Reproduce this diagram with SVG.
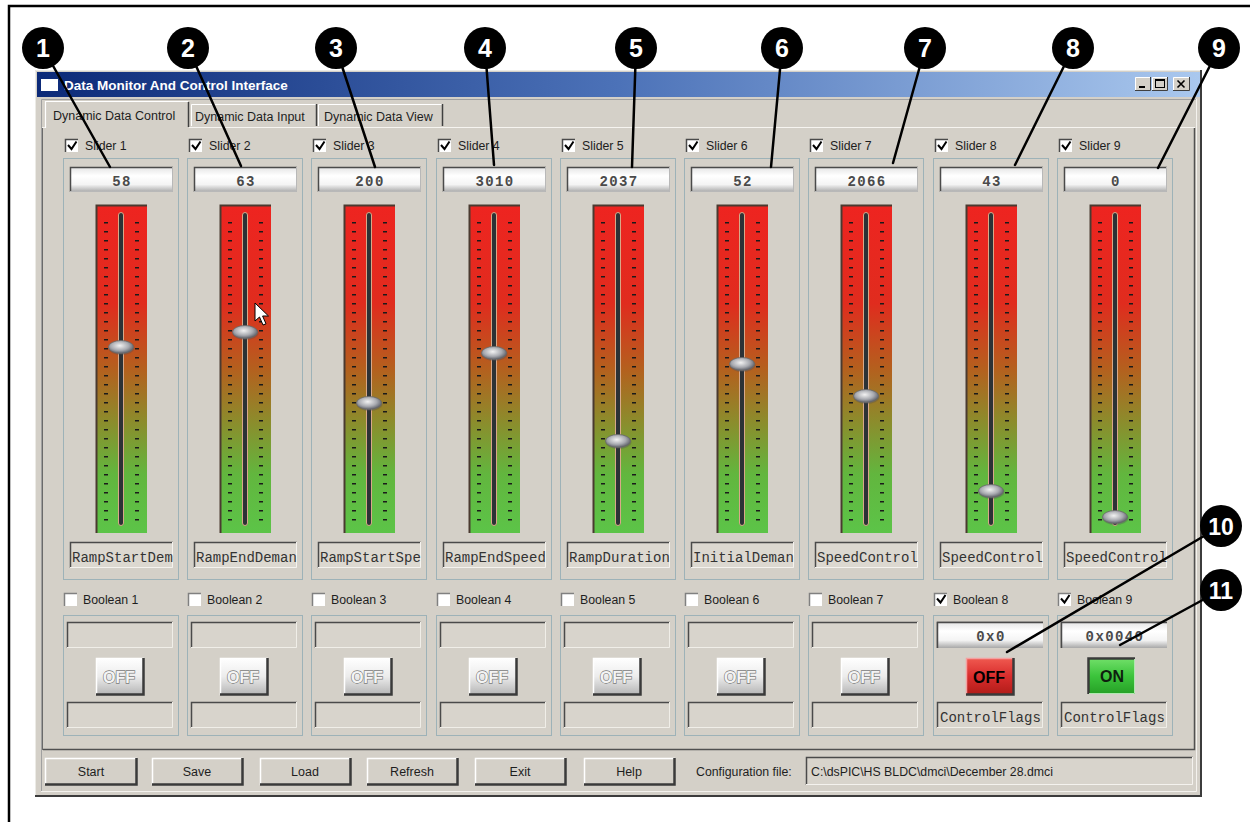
<svg xmlns="http://www.w3.org/2000/svg" xmlns:xlink="http://www.w3.org/1999/xlink" width="1250" height="822" viewBox="0 0 1250 822">
<defs>
<style>
.ui{font-family:"Liberation Sans",Arial,sans-serif;font-size:12.3px;fill:#1e1e1e}
.mono{font-family:"Liberation Mono","Courier New",monospace;font-size:14px;fill:#333333}
.val{font-family:"Liberation Mono","Courier New",monospace;font-size:14px;font-weight:bold;fill:#4a4a4a;letter-spacing:1.4px;text-anchor:middle}
.num{font-family:"Liberation Sans",Arial,sans-serif;font-weight:bold;font-size:25px;fill:#fff;text-anchor:middle}
.panel{fill:none;stroke:#9db2b8;stroke-width:1}
.dk{fill:none;stroke:#4a4a4a;stroke-width:1.5}
.lt{fill:none;stroke:#ffffff;stroke-width:1.5}
.sh{fill:none;stroke:#3a3a3a;stroke-width:2.5}
.lead{stroke:#000;stroke-width:2.5;fill:none;stroke-linecap:round}
.tick{stroke:#1a1a1a;stroke-width:4;stroke-dasharray:1.6 7.4}
.chk{fill:none;stroke:#000;stroke-width:2}
.offtxt{font-family:"Liberation Sans",Arial,sans-serif;font-weight:bold;font-size:16px;text-anchor:middle;fill:#f4f4f4;stroke:#7a7a7a;stroke-width:1.3;paint-order:stroke}
.bt{font-family:"Liberation Sans",Arial,sans-serif;font-weight:bold;font-size:16px;text-anchor:middle}
.btn{font-family:"Liberation Sans",Arial,sans-serif;font-size:12.5px;fill:#1e1e1e;text-anchor:middle}
</style>
<linearGradient id="titleGrad" x1="0" y1="0" x2="1" y2="0">
<stop offset="0" stop-color="#0c2a78"/><stop offset="0.5" stop-color="#4c72b8"/><stop offset="1" stop-color="#aac8ee"/>
</linearGradient>
<linearGradient id="trackGrad" x1="0" y1="0" x2="0" y2="1">
<stop offset="0" stop-color="#ee2420"/><stop offset="0.3" stop-color="#e02c1e"/><stop offset="0.5" stop-color="#b4601e"/><stop offset="0.66" stop-color="#8c8c2c"/><stop offset="0.82" stop-color="#62b63e"/><stop offset="1" stop-color="#5cc448"/>
</linearGradient>
<linearGradient id="valGrad" x1="0" y1="0" x2="0" y2="1">
<stop offset="0" stop-color="#e4e4e4"/><stop offset="0.35" stop-color="#ffffff"/><stop offset="0.7" stop-color="#f4f4f4"/><stop offset="1" stop-color="#a8a8a8"/>
</linearGradient>
<linearGradient id="btnGrad" x1="0" y1="0" x2="0" y2="1">
<stop offset="0" stop-color="#ffffff"/><stop offset="0.5" stop-color="#ececec"/><stop offset="1" stop-color="#b4b4b4"/>
</linearGradient>
<linearGradient id="redGrad" x1="0" y1="0" x2="0" y2="1">
<stop offset="0" stop-color="#f05a50"/><stop offset="0.5" stop-color="#d82c2c"/><stop offset="1" stop-color="#b01c18"/>
</linearGradient>
<linearGradient id="greenGrad" x1="0" y1="0" x2="0" y2="1">
<stop offset="0" stop-color="#72e06a"/><stop offset="0.5" stop-color="#3cc43c"/><stop offset="1" stop-color="#26a026"/>
</linearGradient>
<radialGradient id="thumbGrad" cx="0.45" cy="0.4" r="0.6">
<stop offset="0" stop-color="#f2f2f2"/><stop offset="0.6" stop-color="#a8aab0"/><stop offset="1" stop-color="#5c5e66"/>
</radialGradient>
<clipPath id="nameClip" clipPathUnits="userSpaceOnUse"><rect x="8" y="543" width="102" height="25"/></clipPath>
<g id="sliderBody">
<rect x="2" y="139" width="13" height="13" fill="#fff"/>
<path d="M2.5,152 V139.5 H15" class="dk"/>
<path d="M5,145 L8.5,149 L13.5,141.5" class="chk"/>
<rect class="panel" x="0.5" y="158.5" width="115" height="421"/>
<rect x="7" y="167" width="103" height="25" fill="url(#valGrad)"/>
<path d="M7.5,192 V167.5 H110" class="dk"/>
<path d="M109.5,167 V191.5 H7" stroke="#b8b8b8" stroke-width="1" fill="none"/>
<rect x="33" y="205" width="51" height="328" fill="url(#trackGrad)"/>
<path d="M33.5,533 V205.5 H84" stroke="#4a3a30" stroke-width="2" fill="none"/>
<line x1="43" y1="222" x2="43" y2="523" class="tick"/>
<line x1="74" y1="222" x2="74" y2="523" class="tick"/>
<rect x="55.5" y="212.5" width="5" height="313" rx="2.5" fill="#2c3236" stroke="#d8a888" stroke-width="1"/>
<rect x="7" y="542" width="103" height="26" fill="#dcd8d0"/>
<path d="M7.5,568 V542.5 H110" class="dk"/>
<path d="M109.5,542 V567.5 H7" stroke="#f4f2ee" stroke-width="1" fill="none"/>
<rect x="1" y="593" width="13" height="13" fill="#fff"/>
<path d="M1.5,606 V593.5 H14" stroke="#808080" stroke-width="1.5" fill="none"/>
<rect class="panel" x="0.5" y="615.5" width="115" height="120"/>
<rect x="4" y="622" width="106" height="26" fill="#d8d4cc"/>
<path d="M4.5,648 V622.5 H110" class="dk"/>
<path d="M109.5,622 V647.5 H4" stroke="#f0eee8" stroke-width="1" fill="none"/>
<rect x="4" y="702" width="106" height="26" fill="#d8d4cc"/>
<path d="M4.5,728 V702.5 H110" class="dk"/>
<path d="M109.5,702 V727.5 H4" stroke="#f0eee8" stroke-width="1" fill="none"/>
</g>
<g id="thumb">
<ellipse cx="58.5" cy="1" rx="13" ry="7" fill="#50505a" opacity="0.35"/>
<ellipse cx="58" cy="0" rx="12.5" ry="6.5" fill="url(#thumbGrad)" stroke="#6a6a6a" stroke-width="0.8"/>
</g>
<g id="offBtn">
<rect x="33" y="658" width="48" height="37" fill="url(#btnGrad)"/>
<path d="M33.5,695 V658.5 H81" class="lt"/>
<path d="M80.5,658 V694.5 H33" class="sh"/>
<text x="56" y="683" class="offtxt">OFF</text>
</g>
<g id="valBox">
<rect x="4" y="622" width="106" height="26" fill="url(#valGrad)"/>
<path d="M4.5,648 V622.5 H110" class="dk"/>
</g>
<g id="boolChk">
<path d="M4,598.5 L7.5,602.5 L12.5,595" class="chk"/>
</g>
</defs>

<rect x="0" y="0" width="1250" height="822" fill="#ffffff"/>
<path d="M9,822 V6 H1250" stroke="#000" stroke-width="2.5" fill="none"/>

<g id="window">
<rect x="35" y="70" width="1167" height="727" fill="#d4d0c8"/>
<path d="M35.5,797 V70.5 H1202" stroke="#ecebe6" stroke-width="1" fill="none"/>
<path d="M1201,70 V796 H35" stroke="#3c3c3c" stroke-width="2" fill="none"/>
<rect x="37" y="72" width="1163" height="25" fill="url(#titleGrad)"/>
<rect x="41" y="79" width="17" height="12" fill="#ffffff"/>
<text x="64" y="90" style="font-family:'Liberation Sans',Arial,sans-serif;font-weight:bold;font-size:13.5px;fill:#ffffff">Data Monitor And Control Interface</text>
<g id="titleButtons">
<rect x="1135" y="77" width="16" height="14" fill="#d4d0c8"/>
<path d="M1135.5,91 V77.5 H1151" stroke="#fff" fill="none"/>
<path d="M1150.5,77 V90.5 H1135" stroke="#404040" fill="none"/>
<rect x="1139" y="86" width="6" height="2" fill="#000"/>
<rect x="1152" y="77" width="16" height="14" fill="#d4d0c8"/>
<path d="M1152.5,91 V77.5 H1168" stroke="#fff" fill="none"/>
<path d="M1167.5,77 V90.5 H1152" stroke="#404040" fill="none"/>
<rect x="1155.5" y="79.5" width="9" height="8" fill="none" stroke="#000" stroke-width="1"/>
<rect x="1155.5" y="79.5" width="9" height="1.5" fill="#000"/>
<rect x="1173" y="77" width="17" height="14" fill="#d4d0c8"/>
<path d="M1173.5,91 V77.5 H1190" stroke="#fff" fill="none"/>
<path d="M1189.5,77 V90.5 H1173" stroke="#404040" fill="none"/>
<path d="M1177.5,80.5 L1184.5,87.5 M1184.5,80.5 L1177.5,87.5" stroke="#000" stroke-width="1.6" fill="none"/>
</g>
<path d="M41.5,791 V99.5 H1196" stroke="#a0a0a0" stroke-width="1" fill="none"/>
<path d="M1196.5,99 V791.5 H41" stroke="#f4f2ee" stroke-width="1" fill="none"/>
<rect x="42.5" y="127.5" width="1152" height="622" fill="#d4d0c8" stroke="#f6f4f0" stroke-width="1"/>
<path d="M1194.5,128 V749.5 H43" stroke="#505050" stroke-width="1.5" fill="none"/>
<path d="M42.5,750 V128" stroke="#6a6a6a" stroke-width="1" fill="none"/>
<g id="tabs">
<rect x="45" y="101" width="144" height="28" fill="#d4d0c8"/>
<path d="M45.5,128 V101.5 H188" stroke="#ffffff" stroke-width="1.2" fill="none"/>
<path d="M188.5,102 V127" stroke="#404040" stroke-width="1.5" fill="none"/>
<text class="ui" x="53" y="120" style="font-size:12.5px">Dynamic Data Control</text>
<path d="M191.5,126 V104.5 H316" stroke="#ffffff" stroke-width="1" fill="none"/>
<path d="M316.5,104 V126" stroke="#404040" stroke-width="1.5" fill="none"/>
<text class="ui" x="195" y="121" style="font-size:12.5px">Dynamic Data Input</text>
<path d="M318.5,126 V104.5 H442" stroke="#ffffff" stroke-width="1" fill="none"/>
<path d="M442.5,104 V126" stroke="#404040" stroke-width="1.5" fill="none"/>
<text class="ui" x="324" y="121" style="font-size:12.5px">Dynamic Data View</text>
</g>
</g>

<g id="col1" transform="translate(63,0)">
<use href="#sliderBody"/>
<text class="ui" x="22" y="150">Slider 1</text>
<text class="val" x="59" y="186">58</text>
<use href="#thumb" y="347"/>
<text class="mono" x="9" y="562" clip-path="url(#nameClip)">RampStartDem</text>
<text class="ui" x="20" y="604">Boolean 1</text>
<use href="#offBtn"/>
</g>
<g id="col2" transform="translate(187,0)">
<use href="#sliderBody"/>
<text class="ui" x="22" y="150">Slider 2</text>
<text class="val" x="59" y="186">63</text>
<use href="#thumb" y="332"/>
<text class="mono" x="9" y="562" clip-path="url(#nameClip)">RampEndDeman</text>
<text class="ui" x="20" y="604">Boolean 2</text>
<use href="#offBtn"/>
</g>
<g id="col3" transform="translate(311,0)">
<use href="#sliderBody"/>
<text class="ui" x="22" y="150">Slider 3</text>
<text class="val" x="59" y="186">200</text>
<use href="#thumb" y="403"/>
<text class="mono" x="9" y="562" clip-path="url(#nameClip)">RampStartSpe</text>
<text class="ui" x="20" y="604">Boolean 3</text>
<use href="#offBtn"/>
</g>
<g id="col4" transform="translate(436,0)">
<use href="#sliderBody"/>
<text class="ui" x="22" y="150">Slider 4</text>
<text class="val" x="59" y="186">3010</text>
<use href="#thumb" y="353"/>
<text class="mono" x="9" y="562" clip-path="url(#nameClip)">RampEndSpeed</text>
<text class="ui" x="20" y="604">Boolean 4</text>
<use href="#offBtn"/>
</g>
<g id="col5" transform="translate(560,0)">
<use href="#sliderBody"/>
<text class="ui" x="22" y="150">Slider 5</text>
<text class="val" x="59" y="186">2037</text>
<use href="#thumb" y="441"/>
<text class="mono" x="9" y="562" clip-path="url(#nameClip)">RampDuration</text>
<text class="ui" x="20" y="604">Boolean 5</text>
<use href="#offBtn"/>
</g>
<g id="col6" transform="translate(684,0)">
<use href="#sliderBody"/>
<text class="ui" x="22" y="150">Slider 6</text>
<text class="val" x="59" y="186">52</text>
<use href="#thumb" y="364"/>
<text class="mono" x="9" y="562" clip-path="url(#nameClip)">InitialDeman</text>
<text class="ui" x="20" y="604">Boolean 6</text>
<use href="#offBtn"/>
</g>
<g id="col7" transform="translate(808,0)">
<use href="#sliderBody"/>
<text class="ui" x="22" y="150">Slider 7</text>
<text class="val" x="59" y="186">2066</text>
<use href="#thumb" y="396"/>
<text class="mono" x="9" y="562" clip-path="url(#nameClip)">SpeedControl</text>
<text class="ui" x="20" y="604">Boolean 7</text>
<use href="#offBtn"/>
</g>
<g id="col8" transform="translate(933,0)">
<use href="#sliderBody"/>
<text class="ui" x="22" y="150">Slider 8</text>
<text class="val" x="59" y="186">43</text>
<use href="#thumb" y="491"/>
<text class="mono" x="9" y="562" clip-path="url(#nameClip)">SpeedControl</text>
<use href="#boolChk"/>
<text class="ui" x="20" y="604">Boolean 8</text>
<use href="#valBox"/>
<text class="val" x="58" y="641">0x0</text>
<rect x="33" y="658" width="48" height="37" fill="url(#redGrad)"/>
<path d="M33.5,695 V658.5 H81" stroke="#f4a0a0" stroke-width="1.5" fill="none"/>
<path d="M80.5,658 V694.5 H33" class="sh"/>
<text x="56" y="683" class="bt" fill="#000">OFF</text>
<text class="mono" x="7" y="722">ControlFlags</text>
</g>
<g id="col9" transform="translate(1057,0)">
<use href="#sliderBody"/>
<text class="ui" x="22" y="150">Slider 9</text>
<text class="val" x="59" y="186">0</text>
<use href="#thumb" y="517"/>
<text class="mono" x="9" y="562" clip-path="url(#nameClip)">SpeedControl</text>
<use href="#boolChk"/>
<text class="ui" x="20" y="604">Boolean 9</text>
<use href="#valBox"/>
<text class="val" x="58" y="641">0x0040</text>
<rect x="31" y="658" width="47" height="36" fill="url(#greenGrad)"/>
<path d="M31.5,694 V658.5 H78" class="sh" stroke-width="2"/>
<path d="M77.5,659 V693.5 H32" stroke="#b0e8b0" stroke-width="1" fill="none"/>
<text x="55" y="682" class="bt" fill="#0e1e0e">ON</text>
<text class="mono" x="7" y="722">ControlFlags</text>
</g>

<polygon id="cursor" points="255,303 255,321 259.5,317 263,325 266,323.8 262.6,316 268.5,316" fill="#ffffff" stroke="#000" stroke-width="1"/>

<g id="bottomBar">
<g id="btnStart"><rect x="45" y="758" width="92" height="27" fill="#d4d0c8"/><path d="M45.5,785 V758.5 H137" class="lt"/><path d="M136.5,758 V784.5 H45" class="sh" stroke-width="2"/><text class="btn" x="91" y="776">Start</text></g>
<g id="btnSave"><rect x="152" y="758" width="91" height="27" fill="#d4d0c8"/><path d="M152.5,785 V758.5 H243" class="lt"/><path d="M242.5,758 V784.5 H152" class="sh" stroke-width="2"/><text class="btn" x="197" y="776">Save</text></g>
<g id="btnLoad"><rect x="260" y="758" width="91" height="27" fill="#d4d0c8"/><path d="M260.5,785 V758.5 H351" class="lt"/><path d="M350.5,758 V784.5 H260" class="sh" stroke-width="2"/><text class="btn" x="305" y="776">Load</text></g>
<g id="btnRefresh"><rect x="367" y="758" width="91" height="27" fill="#d4d0c8"/><path d="M367.5,785 V758.5 H458" class="lt"/><path d="M457.5,758 V784.5 H367" class="sh" stroke-width="2"/><text class="btn" x="412" y="776">Refresh</text></g>
<g id="btnExit"><rect x="475" y="758" width="91" height="27" fill="#d4d0c8"/><path d="M475.5,785 V758.5 H566" class="lt"/><path d="M565.5,758 V784.5 H475" class="sh" stroke-width="2"/><text class="btn" x="520" y="776">Exit</text></g>
<g id="btnHelp"><rect x="584" y="758" width="91" height="27" fill="#d4d0c8"/><path d="M584.5,785 V758.5 H675" class="lt"/><path d="M674.5,758 V784.5 H584" class="sh" stroke-width="2"/><text class="btn" x="629" y="776">Help</text></g>
<text class="ui" x="696" y="776">Configuration file:</text>
<g id="configField"><rect x="806" y="757" width="387" height="28" fill="#d8d4cc"/><path d="M806.5,785 V757.5 H1193" class="dk"/><path d="M1192.5,757 V784.5 H806" stroke="#f4f2ee" stroke-width="1" fill="none"/><text class="ui" x="811" y="776">C:\dsPIC\HS BLDC\dmci\December 28.dmci</text></g>
</g>

<g id="connectors">
<line class="lead" x1="43" y1="48" x2="110" y2="167"/>
<line class="lead" x1="188" y1="48" x2="241" y2="166"/>
<line class="lead" x1="336" y1="48" x2="375" y2="167"/>
<line class="lead" x1="485" y1="48" x2="494" y2="165"/>
<line class="lead" x1="636" y1="48" x2="632" y2="167"/>
<line class="lead" x1="782" y1="48" x2="771" y2="167"/>
<line class="lead" x1="925" y1="48" x2="893" y2="163"/>
<line class="lead" x1="1073" y1="48" x2="1015" y2="165"/>
<line class="lead" x1="1219" y1="48" x2="1158" y2="168"/>
<line class="lead" x1="1221" y1="526" x2="1007" y2="652"/>
<line class="lead" x1="1221" y1="590" x2="1120" y2="645"/>
</g>

<g id="callout1"><circle cx="43" cy="48" r="21" fill="#000"/><text class="num" x="43" y="57">1</text></g>
<g id="callout2"><circle cx="188" cy="48" r="21" fill="#000"/><text class="num" x="188" y="57">2</text></g>
<g id="callout3"><circle cx="336" cy="48" r="21" fill="#000"/><text class="num" x="336" y="57">3</text></g>
<g id="callout4"><circle cx="485" cy="48" r="21" fill="#000"/><text class="num" x="485" y="57">4</text></g>
<g id="callout5"><circle cx="636" cy="48" r="21" fill="#000"/><text class="num" x="636" y="57">5</text></g>
<g id="callout6"><circle cx="782" cy="48" r="21" fill="#000"/><text class="num" x="782" y="57">6</text></g>
<g id="callout7"><circle cx="925" cy="48" r="21" fill="#000"/><text class="num" x="925" y="57">7</text></g>
<g id="callout8"><circle cx="1073" cy="48" r="21" fill="#000"/><text class="num" x="1073" y="57">8</text></g>
<g id="callout9"><circle cx="1219" cy="48" r="21" fill="#000"/><text class="num" x="1219" y="57">9</text></g>
<g id="callout10"><circle cx="1221" cy="526" r="21" fill="#000"/><text class="num" x="1221" y="535" style="font-size:23px">10</text></g>
<g id="callout11"><circle cx="1221" cy="590" r="21" fill="#000"/><text class="num" x="1221" y="599" style="font-size:23px">11</text></g>
</svg>
